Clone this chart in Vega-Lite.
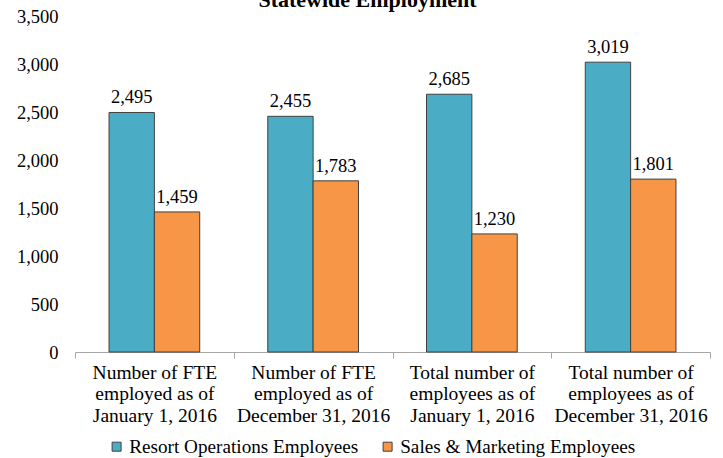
{
  "$schema": "https://vega.github.io/schema/vega-lite/v6.json",
  "autosize": {"type": "none"},
  "width": 635,
  "height": 336,
  "padding": {"left": 75, "top": 16, "right": 13, "bottom": 106},
  "background": "white",
  "config": {
    "view": {"stroke": null},
    "font": "Liberation Serif",
    "axis": {"labelFont": "Liberation Serif", "titleFont": "Liberation Serif"},
    "legend": {"labelFont": "Liberation Serif", "titleFont": "Liberation Serif"},
    "title": {"font": "Liberation Serif"},
    "text": {"font": "Liberation Serif"}
  },
  "title": {
    "text": "Statewide Employment",
    "font": "Liberation Serif",
    "fontSize": 22,
    "fontWeight": "bold",
    "color": "#000000",
    "frame": "group",
    "anchor": "middle",
    "dx": -25,
    "baseline": "alphabetic",
    "offset": -22
  },
  "data": {
    "values": [
      {"category": "Number of FTE\nemployed as of\nJanuary 1, 2016", "series": "Resort Operations Employees", "value": 2495},
      {"category": "Number of FTE\nemployed as of\nJanuary 1, 2016", "series": "Sales & Marketing Employees", "value": 1459},
      {"category": "Number of FTE\nemployed as of\nDecember 31, 2016", "series": "Resort Operations Employees", "value": 2455},
      {"category": "Number of FTE\nemployed as of\nDecember 31, 2016", "series": "Sales & Marketing Employees", "value": 1783},
      {"category": "Total number of\nemployees as of\nJanuary 1, 2016", "series": "Resort Operations Employees", "value": 2685},
      {"category": "Total number of\nemployees as of\nJanuary 1, 2016", "series": "Sales & Marketing Employees", "value": 1230},
      {"category": "Total number of\nemployees as of\nDecember 31, 2016", "series": "Resort Operations Employees", "value": 3019},
      {"category": "Total number of\nemployees as of\nDecember 31, 2016", "series": "Sales & Marketing Employees", "value": 1801}
    ]
  },
  "encoding": {
    "x": {
      "field": "category",
      "type": "nominal",
      "sort": null,
      "scale": {"paddingInner": 0, "paddingOuter": 0},
      "axis": {
        "title": null,
        "labelAngle": 0,
        "labelExpr": "split(datum.label, '\\n')",
        "labelFont": "Liberation Serif",
        "labelFontSize": 19.5,
        "labelColor": "#000000",
        "labelLineHeight": 21.7,
        "labelPadding": 5,
        "labelLimit": 0,
        "tickBand": "extent",
        "tickSize": 6,
        "tickColor": "#a6a6a6",
        "domainColor": "#a6a6a6",
        "grid": false
      }
    },
    "xOffset": {
      "field": "series",
      "type": "nominal",
      "scale": {"paddingInner": 0, "paddingOuter": 0.75}
    },
    "y": {
      "field": "value",
      "type": "quantitative",
      "scale": {"domain": [0, 3500], "nice": false},
      "axis": {
        "title": null,
        "values": [0, 500, 1000, 1500, 2000, 2500, 3000, 3500],
        "format": ",d",
        "domain": false,
        "ticks": false,
        "grid": false,
        "labelPadding": 17,
        "labelFont": "Liberation Serif",
        "labelFontSize": 18.5,
        "labelColor": "#000000"
      }
    }
  },
  "layer": [
    {
      "mark": {"type": "bar", "stroke": "#404040", "strokeWidth": 1},
      "encoding": {
        "color": {
          "field": "series",
          "type": "nominal",
          "scale": {"range": ["#4BACC6", "#F79646"]},
          "legend": {
            "title": null,
            "orient": "none",
            "legendX": 32,
            "legendY": 421,
            "direction": "horizontal",
            "symbolType": "square",
            "symbolSize": 81,
            "symbolStrokeColor": "#404040",
            "symbolStrokeWidth": 1,
            "labelFont": "Liberation Serif",
            "labelFontSize": 19.2,
            "labelColor": "#000000",
            "labelOffset": 3,
            "columnPadding": 19,
            "labelLimit": 0
          }
        }
      }
    },
    {
      "mark": {"type": "text", "baseline": "alphabetic", "dy": -9, "font": "Liberation Serif", "fontSize": 18.5, "color": "#000000"},
      "encoding": {
        "text": {"field": "value", "type": "quantitative", "format": ","}
      }
    }
  ]
}
